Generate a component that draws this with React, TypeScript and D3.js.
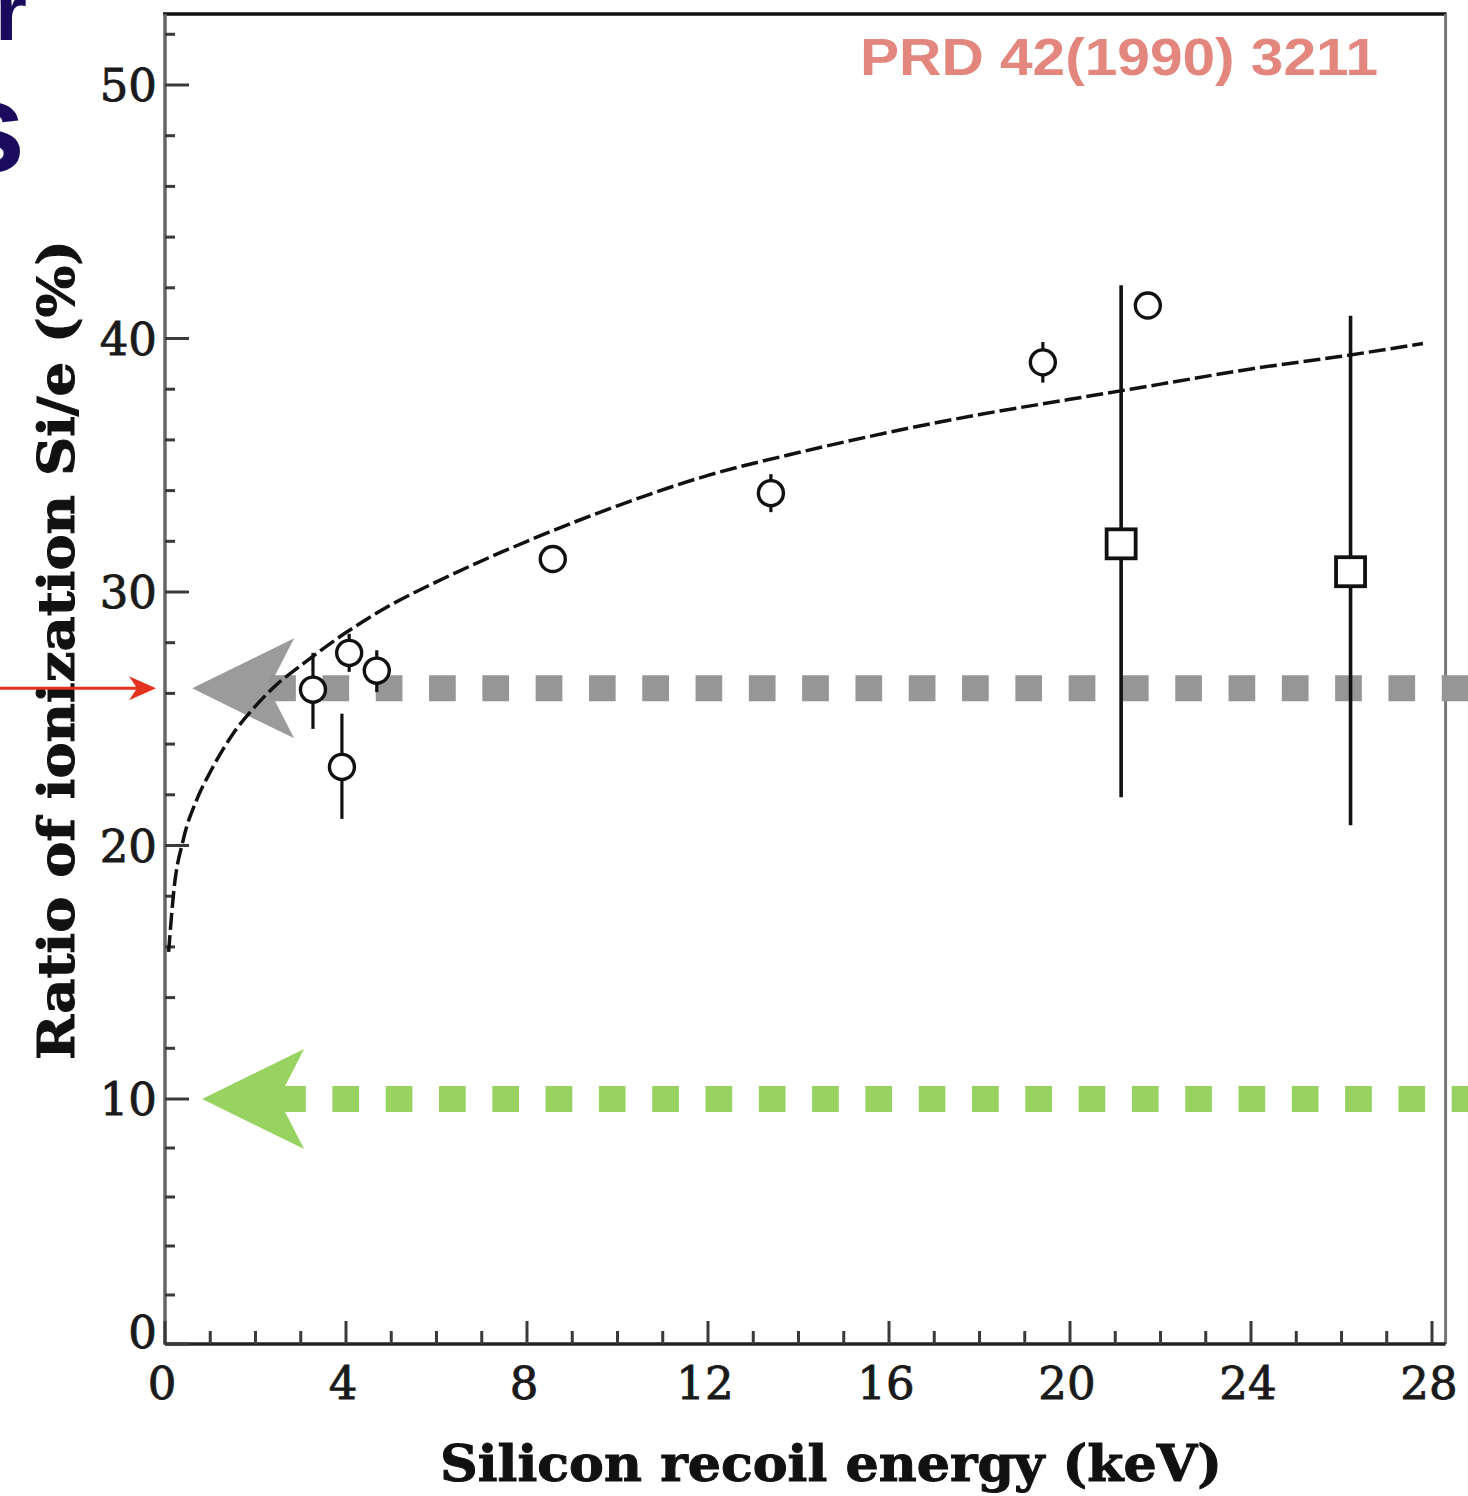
import React from 'react';
import * as d3 from 'd3';

// ---------- data ----------
const xTickValues = [0, 4, 8, 12, 16, 20, 24, 28];
const xTickLabels = ['0', '4', '8', '12', '16', '20', '24', '28'];
const xMinorValues = [1, 2, 3, 5, 6, 7, 9, 10, 11, 13, 14, 15, 17, 18, 19, 21, 22, 23, 25, 26, 27];
const yTickValues = [0, 10, 20, 30, 40, 50];
const yTickLabels = ['0', '10', '20', '30', '40', '50'];
const yMinorValues = [2, 4, 6, 8, 12, 14, 16, 18, 22, 24, 26, 28, 32, 34, 36, 38, 42, 44, 46, 48, 52];

// open circles (energy keV, ratio %, error)
const circleEnergy = [3.27, 4.07, 4.68, 3.91, 8.57, 13.39, 19.4, 21.72];
const circleRatio = [26.15, 27.6, 26.9, 23.1, 31.3, 33.9, 39.06, 41.3];
const circleErrLow = [1.55, 0.75, 0.85, 2.05, 0, 0.75, 0.8, 0];
const circleErrHigh = [1.45, 0.75, 0.8, 2.1, 0, 0.75, 0.8, 0];

// open squares
const squareEnergy = [21.13, 26.2];
const squareRatio = [31.9, 30.8];
const squareErrLow = [10.0, 10.0];
const squareErrHigh = [10.2, 10.1];

// dashed fit curve
const fitEnergy = [0.08, 0.2, 0.4, 0.7, 1.0, 1.5, 2.0, 2.5, 3.0, 4.0, 5.0, 6.0, 8.0, 10, 12, 14, 16, 18, 20, 22, 24, 26, 27.8];
const fitRatio = [15.8, 18.3, 20.2, 21.8, 22.9, 24.4, 25.5, 26.4, 27.1, 28.4, 29.5, 30.4, 32.0, 33.4, 34.6, 35.5, 36.3, 37.0, 37.6, 38.2, 38.8, 39.3, 39.8];

// annotation levels
const grayLevel = 26.2;
const greenLevel = 10;
const grayArrowTipEnergy = 0.6;
const greenArrowTipEnergy = 0.82;

const xMax = 28.3;
const yMax = 52.8;

const W = 1468;
const H = 1496;

export default function App() {
  const x = d3.scaleLinear().domain([0, 28]).range([165, 1432]);
  const y = d3.scaleLinear().domain([0, 10, 50]).range([1344, 1099, 85]);

  const fitPts: [number, number][] = fitEnergy.map((e, i) => [e, fitRatio[i]]);
  const line = d3
    .line<[number, number]>()
    .x((d) => x(d[0]))
    .y((d) => y(d[1]))
    .curve(d3.curveMonotoneX);

  const x0 = x(0);
  const xR = x(xMax);
  const yT = y(yMax);
  const yB = y(0);
  const axisColor = '#3a3a3a';

  const arrowHead = (tx: number, ty: number) =>
    [
      [tx, ty],
      [tx + 102, ty - 50],
      [tx + 83, ty - 13],
      [tx + 83, ty + 13],
      [tx + 102, ty + 50],
    ]
      .map((p) => p.join(','))
      .join(' ');

  const gY = y(grayLevel);
  const gTip = x(grayArrowTipEnergy);
  const grY = y(greenLevel);
  const grTip = x(greenArrowTipEnergy);

  const redTip = x0 - 9;

  const labelStyle = { paintOrder: 'stroke' as const };

  return (
    <svg
      width={W}
      height={H}
      style={{ position: 'absolute', left: 0, top: 0, background: '#fff' }}
    >
      <rect x={0} y={0} width={W} height={H} fill="#fff" />

      {/* slide title fragments */}
      <text x={-5} y={40} fontFamily="Liberation Sans, Arial" fontWeight="bold" fontSize={82} fill="#1b0b5c">r</text>
      <text x={-47} y={172} fontFamily="Liberation Sans, Arial" fontWeight="bold" fontSize={130} fill="#1b0b5c">s</text>

      {/* frame */}
      <line x1={x0 - 2} x2={xR + 1} y1={yT} y2={yT} stroke="#111" strokeWidth={3.5} />
      <line x1={xR} x2={xR} y1={yT} y2={yB} stroke="#777" strokeWidth={3} />
      <line x1={x0} x2={x0} y1={yT} y2={yB + 1} stroke="#666" strokeWidth={3.5} />
      <line x1={x0} x2={xR} y1={yB} y2={yB} stroke="#222" strokeWidth={3.5} />

      {/* y ticks */}
      {yTickValues.map((v) => (
        <line key={'ym' + v} x1={x0} x2={x0 + 24} y1={y(v)} y2={y(v)} stroke={axisColor} strokeWidth={3} />
      ))}
      {yMinorValues.map((v) => (
        <line key={'yn' + v} x1={x0} x2={x0 + 10} y1={y(v)} y2={y(v)} stroke={axisColor} strokeWidth={3} />
      ))}
      {yTickValues.map((v, i) => (
        <text
          key={'yl' + v}
          x={157}
          y={y(v) + 16 - (v === 0 ? 12 : 0)}
          textAnchor="end"
          fontFamily="DejaVu Serif, serif"
          fontSize={45}
          fill="#1a1a1a"
          stroke="#1a1a1a"
          strokeWidth={0.9}
          style={labelStyle}
        >
          {yTickLabels[i]}
        </text>
      ))}

      {/* x ticks */}
      {xTickValues.map((v) => (
        <line key={'xm' + v} x1={x(v)} x2={x(v)} y1={yB} y2={yB - 23} stroke={axisColor} strokeWidth={3} />
      ))}
      {xMinorValues.map((v) => (
        <line key={'xn' + v} x1={x(v)} x2={x(v)} y1={yB} y2={yB - 13} stroke={axisColor} strokeWidth={3} />
      ))}
      {xTickValues.map((v, i) => (
        <text
          key={'xl' + v}
          x={x(v) - 3}
          y={1399}
          textAnchor="middle"
          fontFamily="DejaVu Serif, serif"
          fontSize={45}
          fill="#1a1a1a"
          stroke="#1a1a1a"
          strokeWidth={0.9}
          style={labelStyle}
        >
          {xTickLabels[i]}
        </text>
      ))}

      {/* axis titles */}
      <text
        x={831}
        y={1481}
        textAnchor="middle"
        fontFamily="DejaVu Serif, serif"
        fontWeight="bold"
        fontSize={50}
        textLength={782}
        lengthAdjust="spacingAndGlyphs"
        fill="#111"
        stroke="#111"
        strokeWidth={1}
      >
        Silicon recoil energy (keV)
      </text>
      <text
        transform="translate(74,650) rotate(-90)"
        x={0}
        y={0}
        textAnchor="middle"
        fontFamily="DejaVu Serif, serif"
        fontWeight="bold"
        fontSize={50}
        textLength={820}
        lengthAdjust="spacingAndGlyphs"
        fill="#111"
        stroke="#111"
        strokeWidth={1}
      >
        Ratio of ionization  Si/e (%)
      </text>

      {/* citation */}
      <text
        x={860}
        y={75}
        fontFamily="Liberation Sans, Arial, sans-serif"
        fontWeight="bold"
        fontSize={51}
        textLength={518}
        lengthAdjust="spacingAndGlyphs"
        fill="#e3867d"
      >
        PRD 42(1990) 3211
      </text>

      {/* overlays: gray and green dotted arrows */}
      <line x1={gTip + 77} x2={W + 20} y1={gY} y2={gY} stroke="#969696" strokeWidth={26} strokeDasharray="26.7 26.6" />
      <polygon points={arrowHead(gTip, gY)} fill="#969696" opacity={0.95} />
      <line x1={grTip + 77} x2={W + 20} y1={grY} y2={grY} stroke="#98d362" strokeWidth={26} strokeDasharray="26.7 26.6" />
      <polygon points={arrowHead(grTip, grY)} fill="#98d362" />

      {/* red arrow */}
      <line x1={0} x2={redTip - 18} y1={gY} y2={gY} stroke="#e2311d" strokeWidth={3} />
      <polygon
        points={[
          [redTip, gY],
          [redTip - 27, gY - 12],
          [redTip - 19, gY],
          [redTip - 27, gY + 12],
        ]
          .map((p) => p.join(','))
          .join(' ')}
        fill="#e2311d"
      />

      {/* fit curve */}
      <path d={line(fitPts) || ''} fill="none" stroke="#111" strokeWidth={3.5} strokeDasharray="17 5" />

      {/* error bars */}
      {circleEnergy.map((e, i) =>
        circleErrLow[i] + circleErrHigh[i] > 0 ? (
          <line
            key={'ce' + i}
            x1={x(e)}
            x2={x(e)}
            y1={y(circleRatio[i] - circleErrLow[i])}
            y2={y(circleRatio[i] + circleErrHigh[i])}
            stroke="#111"
            strokeWidth={3.2}
          />
        ) : null
      )}
      {squareEnergy.map((e, i) => (
        <line
          key={'se' + i}
          x1={x(e)}
          x2={x(e)}
          y1={y(squareRatio[i] - squareErrLow[i])}
          y2={y(squareRatio[i] + squareErrHigh[i])}
          stroke="#111"
          strokeWidth={3.6}
        />
      ))}

      {/* markers */}
      {circleEnergy.map((e, i) => (
        <circle key={'c' + i} cx={x(e)} cy={y(circleRatio[i])} r={12.5} fill="#fff" stroke="#111" strokeWidth={3.4} />
      ))}
      {squareEnergy.map((e, i) => (
        <rect
          key={'s' + i}
          x={x(e) - 14.5}
          y={y(squareRatio[i]) - 14.5}
          width={29}
          height={29}
          fill="#fff"
          stroke="#111"
          strokeWidth={3.8}
        />
      ))}
    </svg>
  );
}
